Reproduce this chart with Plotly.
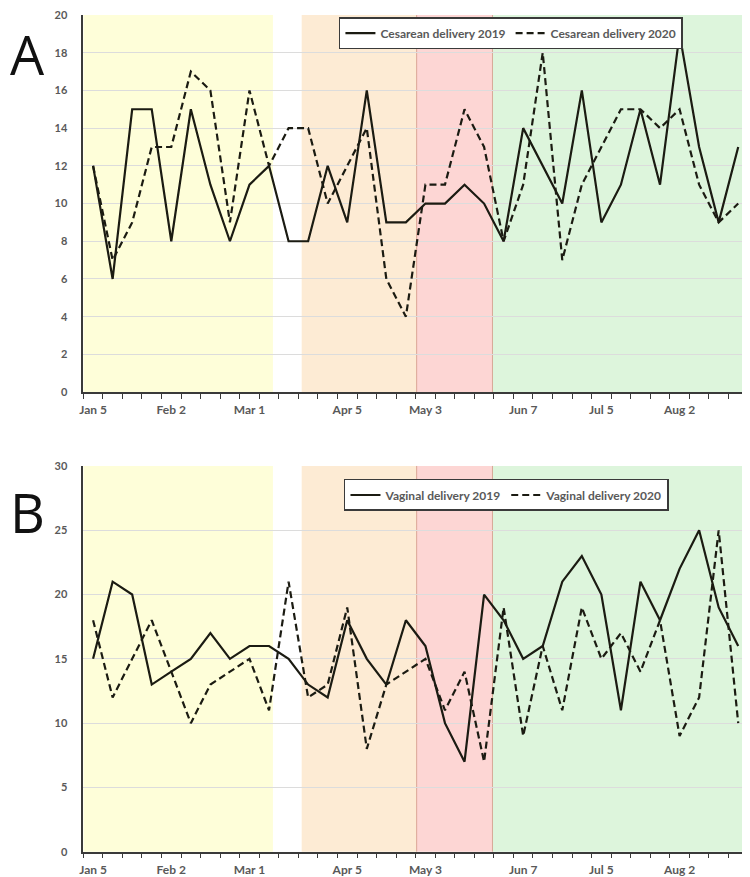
import plotly.graph_objects as go

# ---------------- data ----------------
weeks = list(range(34))  # weekly categories, Jan 5 ... end of August
tick_weeks = [0, 4, 8, 13, 17, 22, 26, 30]
tick_labels = ["Jan 5", "Feb 2", "Mar 1", "Apr 5", "May 3", "Jun 7", "Jul 5", "Aug 2"]

cesarean_2019 = [12, 6, 15, 15, 8, 15, 11, 8, 11, 12, 8, 8, 12, 9, 16, 9, 9,
                 10, 10, 11, 10, 8, 14, 12, 10, 16, 9, 11, 15, 11, 19, 13, 9, 13]
cesarean_2020 = [12, 7, 9, 13, 13, 17, 16, 9, 16, 12, 14, 14, 10, 12, 14, 6, 4,
                 11, 11, 15, 13, 8, 11, 18, 7, 11, 13, 15, 15, 14, 15, 11, 9, 10]
vaginal_2019 = [15, 21, 20, 13, 14, 15, 17, 15, 16, 16, 15, 13, 12, 18, 15, 13, 18,
                16, 10, 7, 20, 18, 15, 16, 21, 23, 20, 11, 21, 18, 22, 25, 19, 16]
vaginal_2020 = [18, 12, 15, 18, 14, 10, 13, 14, 15, 11, 21, 12, 13, 19, 8, 13, 14,
                15, 11, 14, 7, 19, 9, 16, 11, 19, 15, 17, 14, 18, 9, 12, 25, 10]

# shaded periods (start week, end week, colour)
period_starts = [-0.5, 10.67, 16.55, 20.43]
period_ends = [9.2, 16.55, 20.43, 33.5]
period_fills = ["#FEFED9", "#FDEBD4", "#FDD6D4", "#DDF5DC"]
red_edges = [16.55, 20.43]

# ---------------- figure ----------------
LINE = "#1b1b12"
GRAY = "#595959"
FONT = "Lato"
DASH = "7px,4px"
W, H = 742, 869  # page body adds an 8px offset

fig = go.Figure()

fig.add_trace(go.Scatter(x=weeks, y=cesarean_2019, mode="lines", name="Cesarean delivery 2019",
                         line=dict(color=LINE, width=2.2), xaxis="x", yaxis="y", legend="legend"))
fig.add_trace(go.Scatter(x=weeks, y=cesarean_2020, mode="lines", name="Cesarean delivery 2020",
                         line=dict(color=LINE, width=2.2, dash=DASH), xaxis="x", yaxis="y", legend="legend"))
fig.add_trace(go.Scatter(x=weeks, y=vaginal_2019, mode="lines", name="Vaginal delivery 2019",
                         line=dict(color=LINE, width=2.2), xaxis="x2", yaxis="y2", legend="legend2"))
fig.add_trace(go.Scatter(x=weeks, y=vaginal_2020, mode="lines", name="Vaginal delivery 2020",
                         line=dict(color=LINE, width=2.2, dash=DASH), xaxis="x2", yaxis="y2", legend="legend2"))

shapes = []
for xr, yr in [("x", "y domain"), ("x2", "y2 domain")]:
    for s, e, f in zip(period_starts, period_ends, period_fills):
        shapes.append(dict(type="rect", xref=xr, yref=yr, x0=s, x1=e, y0=0, y1=1,
                           fillcolor=f, line=dict(width=0), layer="below"))
    for xe in red_edges:
        shapes.append(dict(type="line", xref=xr, yref=yr, x0=xe, x1=xe, y0=0, y1=1,
                           line=dict(color="rgba(205,140,120,0.7)", width=1), layer="below"))

xaxis_common = dict(
    range=[-0.5, 33.5], tickmode="array", tickvals=tick_weeks, ticktext=tick_labels,
    ticks="", showgrid=False, zeroline=False, showline=True, linecolor="#3a3a3a", linewidth=1.5,
    tickfont=dict(family=FONT, size=12, color=GRAY, weight="bold"), ticklabelstandoff=6,
    ticklabeloverflow="allow",
    minor=dict(ticks="outside", tick0=-0.5, dtick=1, ticklen=5, tickcolor="#3a3a3a",
               tickwidth=1.2, showgrid=False),
    domain=[0.1015, 0.9973], automargin=False,
)
yaxis_common = dict(
    showgrid=True, gridcolor="#dcdcdc", gridwidth=1, zeroline=False, showline=True,
    linecolor="#3a3a3a", linewidth=1.5, ticks="", automargin=False,
    tickfont=dict(family=FONT, size=11, color=GRAY, weight="bold"), ticklabelstandoff=12,
    ticklabeloverflow="allow",
)

fig.update_layout(
    width=W, height=H,
    margin=dict(l=0, r=0, t=0, b=0, autoexpand=False),
    paper_bgcolor="white", plot_bgcolor="white",
    showlegend=True,
    xaxis=dict(xaxis_common, anchor="y"),
    xaxis2=dict(xaxis_common, anchor="y2"),
    yaxis=dict(yaxis_common, range=[0, 20], dtick=2, domain=[0.558, 1 - 7 / H], anchor="x"),
    yaxis2=dict(yaxis_common, range=[0, 30], dtick=5, domain=[0.0291, 0.473], anchor="x2"),
    shapes=shapes,
    legend=dict(orientation="h", x=0.446, y=0.9896, xanchor="left", yanchor="top",
                bgcolor="white", bordercolor="#3a3a3a", borderwidth=1.5,
                font=dict(family=FONT, size=12, color=GRAY, weight="bold"),
                itemwidth=30, tracegroupgap=0),
    legend2=dict(orientation="h", x=0.4528, y=0.458, xanchor="left", yanchor="top",
                 bgcolor="white", bordercolor="#3a3a3a", borderwidth=1.5,
                 font=dict(family=FONT, size=12, color=GRAY, weight="bold"),
                 itemwidth=30, tracegroupgap=0),
    annotations=[
        dict(text="A", xref="paper", yref="paper", x=0, y=1 - 46 / H, showarrow=False,
             xanchor="left", yanchor="middle", font=dict(family="Open Sans", size=54, color="#111111")),
        dict(text="B", xref="paper", yref="paper", x=0, y=1 - 504 / H, showarrow=False,
             xanchor="left", yanchor="middle", font=dict(family="Open Sans", size=54, color="#111111")),
    ],
)

fig.write_html("out.html")
